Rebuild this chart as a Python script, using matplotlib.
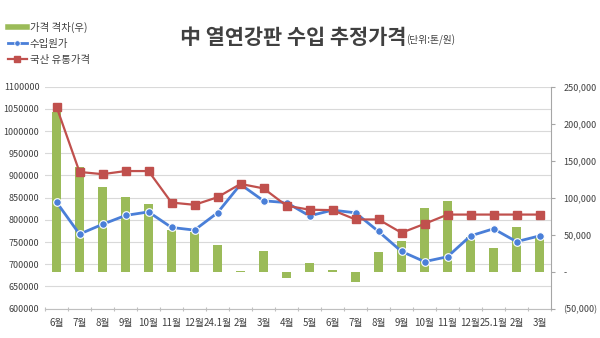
import numpy as np
import matplotlib
matplotlib.use("Agg")
import matplotlib.pyplot as plt
from matplotlib.lines import Line2D
from matplotlib.ticker import FuncFormatter

plt.rcParams['font.family'] = ['Noto Sans CJK KR', 'DejaVu Sans']

categories = ['6월', '7월', '8월', '9월', '10월', '11월', '12월', '24.1월', '2월', '3월', '4월',
              '5월', '6월', '7월', '8월', '9월', '10월', '11월', '12월', '25.1월', '2월', '3월']
domestic_price = [1055000, 908000, 903000, 910000, 910000, 839000, 834000, 851000, 881000, 871000, 832000,
                  823000, 822000, 801000, 801000, 771000, 791000, 812000, 812000, 812000, 812000, 812000]
import_cost = [840000, 768000, 790000, 810000, 818000, 783000, 777000, 816000, 880000, 843000, 839000,
               809000, 822000, 816000, 774000, 729000, 706000, 717000, 764000, 780000, 751000, 764000]
price_gap = [216000, 141000, 114000, 101000, 92000, 57000, 54000, 36000, 1000, 28000, -8000,
             12000, 2000, -14000, 27000, 42000, 86000, 96000, 47000, 32000, 60000, 48000]

left_ticks = list(range(600000, 1100001, 50000))
right_ticks = list(range(-50000, 250001, 50000))

GREEN = '#9BBB59'
BLUE = '#4A7FD8'
RED = '#C0504D'
TXT = '#404040'

fig = plt.figure(figsize=(6, 3.38), dpi=100)
ax1 = fig.add_axes([45/600, 1-308.7/338, (551-45)/600, (308.7-86.7)/338])
ax2 = ax1.twinx()
ax3 = ax1.twinx()

x = np.arange(len(categories))

# left axis with grid
ax1.set_ylim(600000, 1100000)
ax1.set_yticks(left_ticks)
ax1.yaxis.set_major_formatter(FuncFormatter(lambda v, p: '{:d}'.format(int(round(v)))))
ax1.yaxis.grid(True, color='#D9D9D9', lw=0.8)
ax1.set_axisbelow(True)
ax1.tick_params(axis='y', length=0, labelsize=6.5, labelcolor=TXT, pad=4)
ax1.set_xlim(-0.5, len(categories)-0.5)
ax1.set_xticks(np.arange(len(categories)+1)-0.5)
ax1.set_xticklabels([])
ax1.set_xticks(x, minor=True)
ax1.set_xticklabels(categories, minor=True)
ax1.tick_params(axis='x', which='major', length=3, color='#BFBFBF', direction='inout')
ax1.tick_params(axis='x', which='minor', length=0, labelsize=7, labelcolor=TXT, pad=7)
for s in ['left', 'top', 'right']:
    ax1.spines[s].set_visible(False)
ax1.spines['bottom'].set_color('#BFBFBF')

# right axis with bars
ax2.bar(x, price_gap, width=0.4, color=GREEN, zorder=2)
ax2.set_ylim(-50000, 250000)
ax2.set_yticks(right_ticks)
def rfmt(v, pos):
    if v == 0:
        return '-'
    if v < 0:
        return '({:,})'.format(int(-v))
    return '{:,}'.format(int(v))
ax2.yaxis.set_major_formatter(FuncFormatter(rfmt))
ax2.tick_params(axis='y', length=3, color='#A6A6A6', labelsize=6.5, labelcolor=TXT, pad=6)
for s in ['left', 'top', 'bottom']:
    ax2.spines[s].set_visible(False)
ax2.spines['right'].set_color('#A6A6A6')

# lines on left scale
ax3.set_ylim(600000, 1100000)
ax3.plot(x, import_cost, color=BLUE, lw=2, marker='o', ms=5.5, mfc=BLUE, mec='white', mew=0.8, zorder=3)
ax3.plot(x, domestic_price, color=RED, lw=1.6, marker='s', ms=5.5, mfc=RED, mec=RED, zorder=4)
ax3.set_yticks([])
for s in ax3.spines.values():
    s.set_visible(False)

# title
t = fig.text(180/600, 1-37/338, '中 열연강판 수입 추정가격', fontsize=15, fontweight='bold',
             color=TXT, ha='left', va='center')
ax1.annotate('(단위:톤/원)', xy=(1, 0.05), xycoords=t, fontsize=7, color=TXT,
             ha='left', va='bottom', annotation_clip=False)

# legend
handles = [Line2D([0], [0], color=GREEN, lw=4),
           Line2D([0], [0], color=BLUE, lw=2, marker='o', ms=4, mfc=BLUE, mec='white', mew=0.6),
           Line2D([0], [0], color=RED, lw=1.6, marker='s', ms=4.5, mfc=RED, mec=RED)]
labels = ['가격 격차(우)', '수입원가', '국산 유통가격']
fig.legend(handles, labels, loc='upper left', bbox_to_anchor=(8/600, 1-22/338), frameon=False,
           fontsize=7.5, labelcolor=TXT, handlelength=1.8, handletextpad=0.3, labelspacing=0.55,
           borderpad=0, borderaxespad=0)

fig.savefig('out.png', dpi=100)
